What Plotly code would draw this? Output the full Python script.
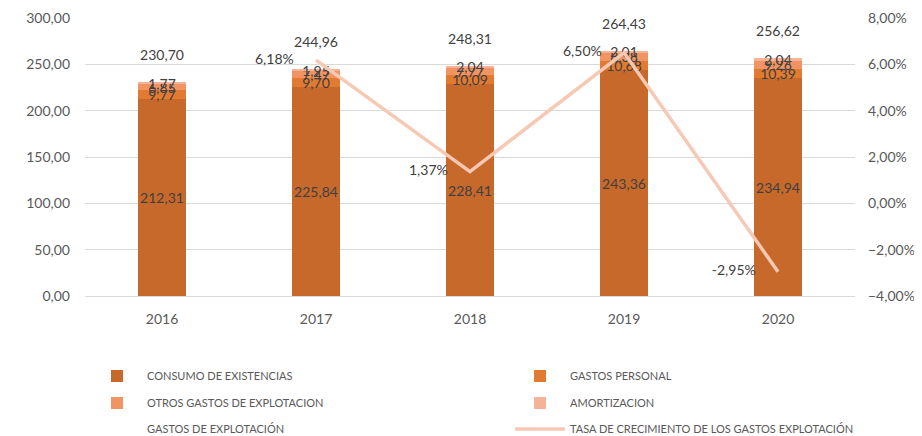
import plotly.graph_objects as go

years = ["2016", "2017", "2018", "2019", "2020"]
consumo = [212.31, 225.84, 228.41, 243.36, 234.94]
personal = [9.77, 9.70, 10.09, 10.68, 10.39]
otros = [6.85, 7.47, 7.77, 8.38, 9.26]
amortizacion = [1.77, 1.95, 2.04, 2.01, 2.04]
total = [230.70, 244.96, 248.31, 264.43, 256.62]
tasa_years = ["2017", "2018", "2019", "2020"]
tasa = [0.0618, 0.0137, 0.0650, -0.0295]

FONT = "Lato"
LBL = "#404040"
TICK = "#595959"

fig = go.Figure()
bar_specs = [
    ("CONSUMO DE EXISTENCIAS", consumo, "#C7692B", "legend"),
    ("GASTOS PERSONAL", personal, "#E27A32", "legend2"),
    ("OTROS GASTOS DE EXPLOTACION", otros, "#F09463", "legend3"),
    ("AMORTIZACION", amortizacion, "#F4B297", "legend4"),
]
for name, vals, col, lg in bar_specs:
    fig.add_trace(go.Bar(
        x=years, y=vals, name=name, marker=dict(color=col, line=dict(width=0)),
        texttemplate="%{y:.2f}", textposition="inside", insidetextanchor="middle",
        textangle=0, constraintext="none",
        textfont=dict(family=FONT, size=14, color=LBL),
        legend=lg,
    ))

fig.add_trace(go.Scatter(
    x=years, y=total, name="GASTOS DE EXPLOTACIÓN", mode="markers+text",
    marker=dict(size=28, color="rgba(0,0,0,0)"),
    texttemplate="%{y:.2f}", textposition="top center",
    textfont=dict(family=FONT, size=14, color=LBL), legend="legend5",
    cliponaxis=False,
))

fig.add_trace(go.Scatter(
    x=tasa_years, y=tasa, name="TASA DE CRECIMIENTO DE LOS GASTOS EXPLOTACIÓN",
    mode="lines+markers+text", yaxis="y2", line=dict(color="#F7C8B4", width=3.5),
    marker=dict(size=34, color="rgba(0,0,0,0)"),
    texttemplate="%{y:.2%}", textposition="middle left",
    textfont=dict(family=FONT, size=14, color=LBL), legend="legend6",
    cliponaxis=False,
))

def lg(x, y):
    return dict(orientation="h", xref="paper", yref="paper", x=x, y=y,
                xanchor="left", yanchor="middle", itemwidth=50,
                font=dict(family=FONT, size=11, color=TICK),
                bgcolor="rgba(0,0,0,0)")

c1, c2 = 0.0026, 0.552
r1, r2, r3 = -0.2878, -0.3849, -0.4784

fig.update_layout(
    width=914, height=428,
    margin=dict(l=77, r=67, t=10, b=140, autoexpand=False),
    barmode="stack", bargap=0.69,
    separators=",.",
    plot_bgcolor="white", paper_bgcolor="white",
    font=dict(family=FONT, size=14, color=TICK),
    xaxis=dict(showgrid=False, showline=True, linecolor="#D9D9D9", linewidth=1,
               ticks="", ticklabelstandoff=10,
               tickfont=dict(family=FONT, size=14, color=TICK)),
    yaxis=dict(range=[0, 300], dtick=50, tickformat=".2f", showgrid=True,
               gridcolor="#D9D9D9", gridwidth=1, zeroline=False, showline=False,
               ticklabelstandoff=14,
               tickfont=dict(family=FONT, size=14, color=TICK)),
    yaxis2=dict(range=[-0.04, 0.08], dtick=0.02, tickformat=".2%", overlaying="y",
                side="right", showgrid=False, zeroline=False, showline=False,
                ticklabelstandoff=12,
                tickfont=dict(family=FONT, size=14, color=TICK)),
    legend=lg(c1, r1), legend2=lg(c2, r1),
    legend3=lg(c1, r2), legend4=lg(c2, r2),
    legend5=lg(c1, r3), legend6=lg(c2, r3),
    showlegend=True,
)

fig.write_html("out.html")
